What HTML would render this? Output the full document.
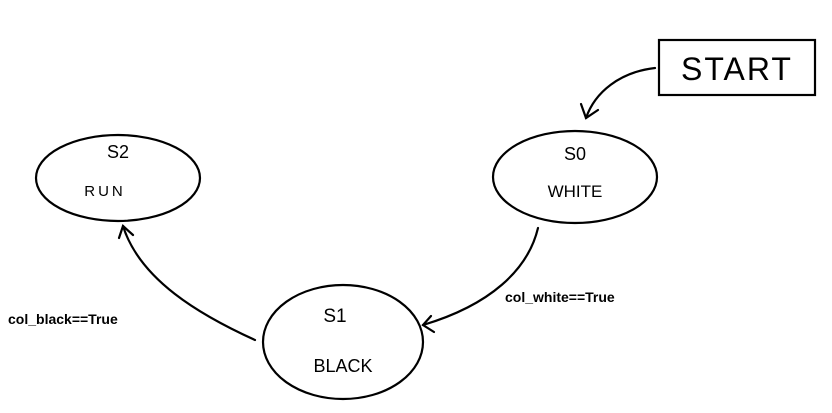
<!DOCTYPE html>
<html><head><style>body{margin:0;background:#fff}svg{display:block}text{font-family:"Liberation Sans",sans-serif;fill:#000}</style></head>
<body>
<svg width="832" height="413" viewBox="0 0 832 413" xmlns="http://www.w3.org/2000/svg" fill="none" stroke="#000" stroke-width="2.2" stroke-linecap="round">
<rect x="659" y="40" width="156" height="55"/>
<text x="737" y="80" font-size="32" text-anchor="middle" stroke="none" letter-spacing="2">START</text>
<path d="M655 68 C620 72 595 92 586 118"/>
<path d="M581 104 L586 118 L598 110"/>
<ellipse cx="575" cy="177" rx="82" ry="46"/>
<text x="575" y="160" font-size="18" text-anchor="middle" stroke="none">S0</text>
<text x="575" y="197" font-size="17" text-anchor="middle" stroke="none">WHITE</text>
<ellipse cx="118" cy="178" rx="82" ry="43"/>
<text x="118" y="158" font-size="18" text-anchor="middle" stroke="none">S2</text>
<text x="105" y="196" font-size="15" text-anchor="middle" stroke="none" letter-spacing="3">RUN</text>
<ellipse cx="343" cy="342" rx="80" ry="57"/>
<text x="335" y="322" font-size="19" text-anchor="middle" stroke="none">S1</text>
<text x="343" y="372" font-size="18" text-anchor="middle" stroke="none">BLACK</text>
<path d="M538 228 C528 270 490 305 423 325"/>
<path d="M431 316 L423 325 L434 332"/>
<text x="505" y="302" font-size="14" font-weight="bold" stroke="none">col_white==True</text>
<path d="M255 340 C200 315 140 280 123 226"/>
<path d="M119 238 L123 226 L133 235"/>
<text x="8" y="324" font-size="14" font-weight="bold" stroke="none">col_black==True</text>
</svg>
</body></html>
